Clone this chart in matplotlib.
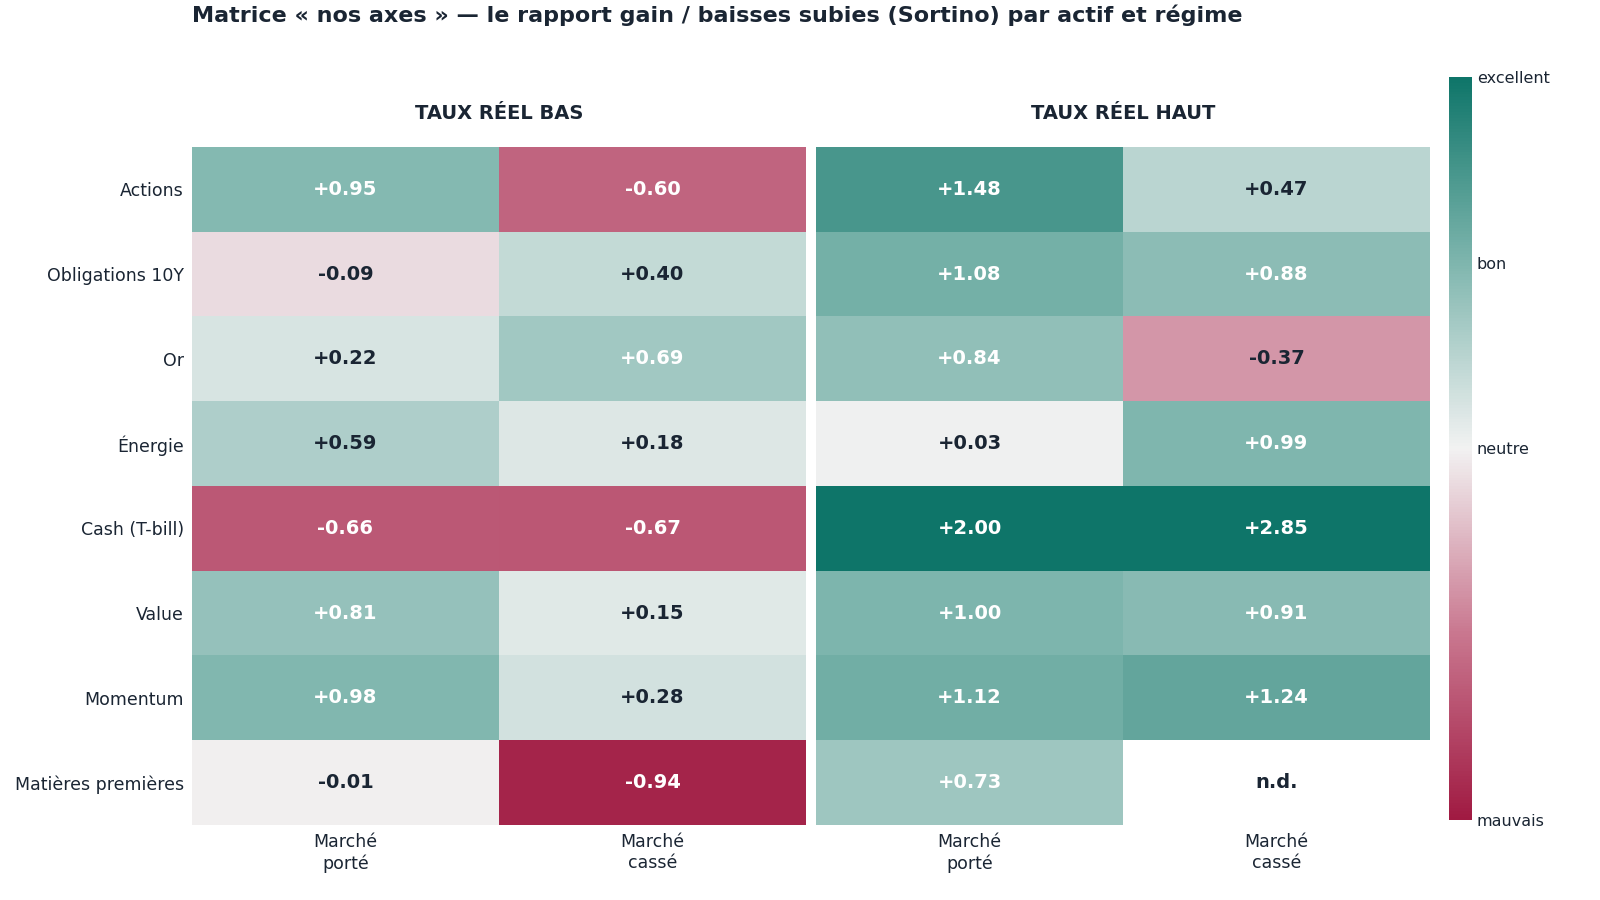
import numpy as np
import matplotlib
matplotlib.use("Agg")
import matplotlib.pyplot as plt
from matplotlib.colors import LinearSegmentedColormap, TwoSlopeNorm

assets = ["Actions", "Obligations 10Y", "Or", "Énergie", "Cash (T-bill)", "Value", "Momentum", "Matières premières"]
groups = ["TAUX RÉEL BAS", "TAUX RÉEL HAUT"]
cols = ["Marché\nporté", "Marché\ncassé"]
low_porte = [0.95, -0.09, 0.22, 0.59, -0.66, 0.81, 0.98, -0.01]
low_casse = [-0.60, 0.40, 0.69, 0.18, -0.67, 0.15, 0.28, -0.94]
high_porte = [1.48, 1.08, 0.84, 0.03, 2.00, 1.00, 1.12, 0.73]
high_casse = [0.47, 0.88, -0.37, 0.99, 2.85, 0.91, 1.24, np.nan]
cbar_labels = ["mauvais", "neutre", "bon", "excellent"]

dark = "#1a2533"
cmap = LinearSegmentedColormap.from_list("d", ["#a01a42", "#c9778f", "#f2f2f2", "#7fb6ae", "#0e7569"])
norm = TwoSlopeNorm(vmin=-1, vcenter=0, vmax=2)

fig = plt.figure(figsize=(16, 9), dpi=100)
fig.text(192/1600, 1-15/900, "Matrice « nos axes » — le rapport gain / baisses subies (Sortino) par actif et régime",
         fontsize=16, fontweight="bold", color=dark, va="center", ha="left")

data = [np.array([low_porte, low_casse]).T, np.array([high_porte, high_casse]).T]
lefts = [192, 816]
w = 614
for gi, (d, L) in enumerate(zip(data, lefts)):
    ax = fig.add_axes([L/1600, 1-825/900, w/1600, (825-147)/900])
    m = np.ma.masked_invalid(d)
    ax.imshow(m, cmap=cmap, norm=norm, aspect="auto", interpolation="nearest")
    for i in range(d.shape[0]):
        for j in range(2):
            v = d[i, j]
            if np.isnan(v):
                s, c = "n.d.", dark
            else:
                s = f"{v:+.2f}"
                c = "white" if (v >= 0.65 or v <= -0.5) else dark
            ax.text(j, i, s, ha="center", va="center", fontsize=14, fontweight="bold", color=c)
    ax.set_xticks(range(2))
    ax.set_xticklabels(cols, fontsize=12.5, color=dark)
    ax.set_yticks(range(len(assets)))
    if gi == 0:
        ax.set_yticklabels(assets, fontsize=12.5, color=dark)
    else:
        ax.set_yticklabels([])
    ax.tick_params(length=0, pad=6)
    for s in ax.spines.values():
        s.set_visible(False)
    ax.set_title(groups[gi], fontsize=14, fontweight="bold", color=dark, pad=20)

cax = fig.add_axes([1449/1600, 1-820/900, 23/1600, (820-77)/900])
sm = matplotlib.cm.ScalarMappable(norm=norm, cmap=cmap)
cb = fig.colorbar(sm, cax=cax)
cb.set_ticks([-1, 0, 1, 2])
cb.set_ticklabels(cbar_labels)
cb.ax.tick_params(length=0, labelsize=11.5, labelcolor=dark)
cb.outline.set_visible(False)
fig.savefig("out.png", dpi=100)
